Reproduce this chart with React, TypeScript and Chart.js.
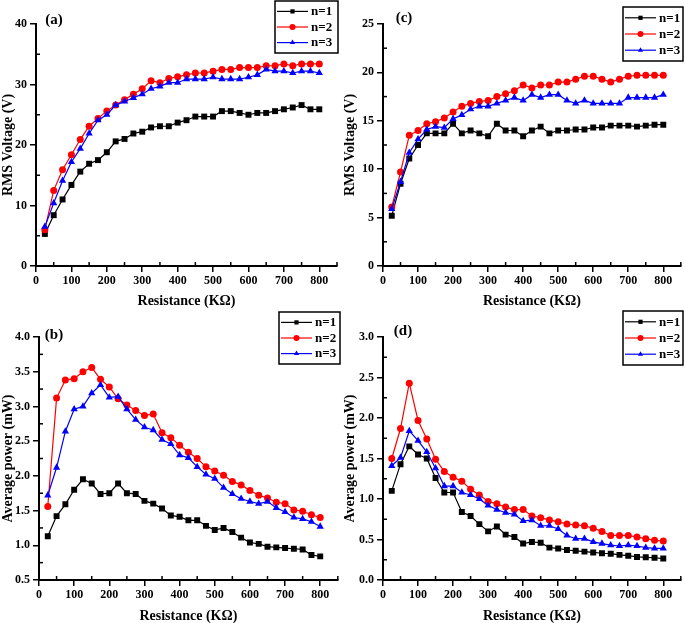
import React, { useEffect, useRef } from 'react';
import { Chart, registerables } from 'chart.js';

Chart.register(...registerables);

// ---------- data ----------
const resistance = [25, 50, 75, 100, 125, 150, 175, 200, 225, 250, 275, 300, 325, 350, 375, 400,
  425, 450, 475, 500, 525, 550, 575, 600, 625, 650, 675, 700, 725, 750, 775, 800];

const seriesNames = ['n=1', 'n=2', 'n=3'];

// (a) RMS voltage
const aN1 = [5.3, 8.4, 11.0, 13.4, 15.6, 16.9, 17.5, 18.8, 20.6, 21.0, 21.9, 22.2, 22.9, 23.1, 23.1, 23.7,
  24.1, 24.7, 24.7, 24.7, 25.6, 25.6, 25.3, 25.0, 25.3, 25.3, 25.6, 25.9, 26.2, 26.6, 25.9, 25.9];
const aN2 = [6.0, 12.5, 15.9, 18.4, 20.9, 23.1, 24.4, 25.6, 26.6, 27.5, 28.4, 29.3, 30.6, 30.3, 31.0, 31.3,
  31.6, 31.9, 31.9, 32.2, 32.5, 32.5, 32.8, 32.8, 32.8, 33.1, 33.1, 33.4, 33.1, 33.4, 33.4, 33.4];
const aN3 = [6.5, 10.4, 14.1, 17.2, 19.4, 21.9, 24.1, 25.0, 26.6, 27.2, 27.8, 28.4, 29.3, 29.7, 30.3, 30.3,
  30.9, 30.9, 30.9, 31.2, 30.9, 30.9, 30.9, 31.2, 31.6, 32.5, 32.2, 32.2, 31.9, 32.2, 32.2, 31.9];

// (b) Average power
const bN1 = [1.13, 1.42, 1.59, 1.80, 1.95, 1.89, 1.74, 1.75, 1.89, 1.75, 1.74, 1.64, 1.60, 1.53, 1.43, 1.41,
  1.36, 1.36, 1.28, 1.22, 1.25, 1.19, 1.11, 1.04, 1.02, 0.98, 0.97, 0.96, 0.95, 0.94, 0.86, 0.84];
const bN2 = [1.56, 3.12, 3.38, 3.40, 3.50, 3.56, 3.39, 3.28, 3.11, 3.02, 2.94, 2.87, 2.89, 2.62, 2.55, 2.44,
  2.34, 2.25, 2.13, 2.07, 2.01, 1.92, 1.87, 1.79, 1.72, 1.68, 1.62, 1.60, 1.51, 1.49, 1.44, 1.40];
const bN3 = [1.72, 2.12, 2.64, 2.96, 3.00, 3.19, 3.31, 3.13, 3.14, 2.96, 2.81, 2.70, 2.66, 2.52, 2.46, 2.30,
  2.26, 2.13, 2.02, 1.96, 1.83, 1.74, 1.67, 1.63, 1.60, 1.63, 1.54, 1.48, 1.40, 1.38, 1.34, 1.27];

// (c) RMS voltage
const cN1 = [5.2, 8.5, 11.1, 12.5, 13.7, 13.7, 13.7, 14.7, 13.7, 14.0, 13.7, 13.4, 14.7, 14.0, 14.0, 13.4,
  14.0, 14.4, 13.7, 14.0, 14.0, 14.1, 14.1, 14.3, 14.3, 14.5, 14.5, 14.5, 14.4, 14.5, 14.6, 14.6];
const cN2 = [6.1, 9.7, 13.5, 14.0, 14.7, 14.9, 15.3, 15.9, 16.5, 16.8, 17.0, 17.1, 17.5, 17.8, 18.1, 18.7,
  18.4, 18.7, 18.7, 19.0, 19.0, 19.3, 19.6, 19.6, 19.3, 19.0, 19.3, 19.6, 19.7, 19.7, 19.7, 19.7];
const cN3 = [5.9, 8.7, 11.7, 13.1, 14.1, 14.4, 14.3, 15.2, 15.6, 16.2, 16.5, 16.5, 16.8, 17.1, 17.4, 17.1,
  17.7, 17.4, 17.7, 17.7, 17.1, 16.8, 17.1, 16.8, 16.8, 16.8, 16.8, 17.4, 17.4, 17.4, 17.4, 17.7];

// (d) Average power
const dN1 = [1.10, 1.43, 1.65, 1.55, 1.50, 1.26, 1.08, 1.08, 0.84, 0.79, 0.69, 0.60, 0.66, 0.56, 0.53, 0.45,
  0.47, 0.46, 0.40, 0.39, 0.37, 0.36, 0.35, 0.34, 0.33, 0.325, 0.31, 0.30, 0.285, 0.28, 0.275, 0.265];
const dN2 = [1.50, 1.87, 2.43, 1.97, 1.74, 1.49, 1.34, 1.27, 1.22, 1.12, 1.05, 0.97, 0.94, 0.90, 0.87, 0.87,
  0.79, 0.77, 0.74, 0.72, 0.69, 0.68, 0.67, 0.64, 0.60, 0.55, 0.55, 0.55, 0.53, 0.51, 0.49, 0.48];
const dN3 = [1.41, 1.51, 1.84, 1.72, 1.58, 1.38, 1.16, 1.16, 1.08, 1.05, 1.00, 0.92, 0.87, 0.83, 0.81, 0.73,
  0.74, 0.67, 0.67, 0.63, 0.55, 0.51, 0.51, 0.47, 0.45, 0.43, 0.42, 0.43, 0.42, 0.40, 0.39, 0.39];

const xTitle = 'Resistance (KΩ)';
const voltageTitle = 'RMS Voltage (V)';
const powerTitle = 'Average power (mW)';

// ---------- styling ----------
const FONT = '"Liberation Serif", "Times New Roman", serif';
const colors = ['#000000', '#ff0000', '#0000ff'];
const pointStyles = ['rect', 'circle', 'triangle'];
const pointRadii = [4.2, 3.5, 4.2];

type Panel = {
  key: string;
  label: string;
  yTitle: string;
  yMin: number;
  yMax: number;
  yStep: number;
  decimals: number;
  values: number[][];
  left: number; top: number; width: number; height: number;
  yAxisW: number; xAxisH: number; padTop: number; padRight: number; xTitlePad: number;
  legend: { x: number; y: number; w: number; h: number };
  labelPos: { x: number; y: number };
};

const panels: Panel[] = [
  {
    key: 'a', label: '(a)', yTitle: voltageTitle, yMin: 0, yMax: 40, yStep: 10, decimals: 0,
    values: [aN1, aN2, aN3],
    left: 0, top: 0, width: 342, height: 310,
    yAxisW: 36, xAxisH: 44, padTop: 24, padRight: 5, xTitlePad: 0,
    legend: { x: 275, y: 1, w: 63, h: 52 }, labelPos: { x: 54, y: 20 },
  },
  {
    key: 'c', label: '(c)', yTitle: voltageTitle, yMin: 0, yMax: 25, yStep: 5, decimals: 0,
    values: [cN1, cN2, cN3],
    left: 342, top: 0, width: 343, height: 310,
    yAxisW: 41, xAxisH: 44, padTop: 24, padRight: 1, xTitlePad: 0,
    legend: { x: 281, y: 7, w: 60, h: 54 }, labelPos: { x: 62, y: 18 },
  },
  {
    key: 'b', label: '(b)', yTitle: powerTitle, yMin: 0.5, yMax: 4.0, yStep: 0.5, decimals: 1,
    values: [bN1, bN2, bN3],
    left: 0, top: 310, width: 342, height: 313,
    yAxisW: 39, xAxisH: 43, padTop: 27, padRight: 2, xTitlePad: -2,
    legend: { x: 279, y: 2, w: 61, h: 52 }, labelPos: { x: 54, y: 25 },
  },
  {
    key: 'd', label: '(d)', yTitle: powerTitle, yMin: 0, yMax: 3.0, yStep: 0.5, decimals: 1,
    values: [dN1, dN2, dN3],
    left: 342, top: 310, width: 343, height: 313,
    yAxisW: 41, xAxisH: 43, padTop: 27, padRight: 1, xTitlePad: -2,
    legend: { x: 281, y: 1, w: 60, h: 54 }, labelPos: { x: 61, y: 21 },
  },
];

function drawMarker(ctx: CanvasRenderingContext2D, style: string, x: number, y: number, r: number) {
  ctx.beginPath();
  if (style === 'rect') {
    const s = r * Math.SQRT1_2;
    ctx.rect(x - s, y - s, 2 * s, 2 * s);
  } else if (style === 'circle') {
    ctx.arc(x, y, r, 0, Math.PI * 2);
  } else {
    const h = r * 1.5;
    ctx.moveTo(x, y - r);
    ctx.lineTo(x + r * 0.866, y + r * 0.5);
    ctx.lineTo(x - r * 0.866, y + r * 0.5);
    ctx.closePath();
    void h;
  }
  ctx.fill();
}

const decorPlugin = {
  id: 'decor',
  afterDraw(chart: any, _args: any, opts: any) {
    const ctx: CanvasRenderingContext2D = chart.ctx;
    const xs = chart.scales.x;
    const ys = chart.scales.y;
    const area = chart.chartArea;
    ctx.save();
    // minor ticks (inward)
    ctx.strokeStyle = '#000';
    ctx.lineWidth = 1.5;
    const xStep = 100;
    const nX = Math.round((xs.max - xs.min) / xStep) + 1;
    for (let i = 0; i < nX; i++) {
      const v = xs.min + xStep / 2 + i * xStep;
      if (v > xs.max + 1e-9) break;
      const px = xs.getPixelForValue(v);
      ctx.beginPath();
      ctx.moveTo(px, area.bottom);
      ctx.lineTo(px, area.bottom - 4);
      ctx.stroke();
    }
    const yStep = opts.yStep;
    const nY = Math.round((ys.max - ys.min) / yStep) + 1;
    for (let i = 0; i < nY; i++) {
      const v = ys.min + yStep / 2 + i * yStep;
      if (v > ys.max + 1e-9) break;
      const py = ys.getPixelForValue(v);
      ctx.beginPath();
      ctx.moveTo(area.left, py);
      ctx.lineTo(area.left + 4, py);
      ctx.stroke();
    }
    // panel label
    ctx.fillStyle = '#000';
    ctx.font = `bold 15px ${FONT}`;
    ctx.textAlign = 'center';
    ctx.textBaseline = 'middle';
    ctx.fillText(opts.label, opts.labelX, opts.labelY);
    // legend box
    const L = opts.legend;
    ctx.fillStyle = '#fff';
    ctx.fillRect(L.x, L.y, L.w, L.h);
    ctx.lineWidth = 1.5;
    ctx.strokeStyle = '#000';
    ctx.strokeRect(L.x, L.y, L.w, L.h);
    chart.data.datasets.forEach((ds: any, i: number) => {
      const ry = L.y + L.h * (0.2 + 0.3 * i);
      const x0 = L.x + 2;
      const x1 = L.x + 33;
      ctx.strokeStyle = ds.borderColor;
      ctx.lineWidth = 1.2;
      ctx.beginPath();
      ctx.moveTo(x0, ry);
      ctx.lineTo(x1, ry);
      ctx.stroke();
      ctx.fillStyle = ds.borderColor;
      drawMarker(ctx, ds.pointStyle, (x0 + x1) / 2, ry, 3);
      ctx.fillStyle = '#000';
      ctx.font = `bold 13px ${FONT}`;
      ctx.textAlign = 'left';
      ctx.textBaseline = 'middle';
      ctx.fillText(ds.label, L.x + 36, ry + 0.5);
    });
    ctx.restore();
  },
};

function PanelChart({ p }: { p: Panel }) {
  const ref = useRef<HTMLCanvasElement | null>(null);
  useEffect(() => {
    if (!ref.current) return;
    const tickFont = { family: FONT, size: 12, weight: 'bold' as const };
    const titleFont = { family: FONT, size: 14, weight: 'bold' as const };
    const chart = new Chart(ref.current, {
      type: 'line',
      data: {
        datasets: p.values.map((vals, i) => ({
          label: seriesNames[i],
          data: resistance.map((x, j) => ({ x, y: vals[j] })),
          borderColor: colors[i],
          backgroundColor: colors[i],
          pointBackgroundColor: colors[i],
          pointBorderColor: colors[i],
          pointStyle: pointStyles[i] as any,
          pointRadius: pointRadii[i],
          pointBorderWidth: 0,
          borderWidth: 1.2,
          tension: 0,
          order: 3 - i,
        })),
      },
      options: {
        responsive: false,
        animation: false,
        layout: { padding: { top: p.padTop, right: p.padRight, left: 0, bottom: 0 } },
        plugins: {
          legend: { display: false },
          tooltip: { enabled: false },
          title: { display: false },
          decor: {
            yStep: p.yStep,
            label: p.label,
            labelX: p.labelPos.x,
            labelY: p.labelPos.y,
            legend: p.legend,
          },
        } as any,
        scales: {
          x: {
            type: 'linear',
            min: 0,
            max: 850,
            afterFit: (s: any) => { s.height = p.xAxisH; },
            ticks: {
              stepSize: 100,
              includeBounds: false,
              font: tickFont,
              color: '#000',
              padding: 2,
              maxRotation: 0,
              autoSkip: false,
            },
            grid: { drawOnChartArea: false, drawTicks: true, tickLength: 6, color: '#000', lineWidth: 1.5 },
            border: { display: true, color: '#000', width: 2 },
            title: { display: true, text: xTitle, font: titleFont, color: '#000', padding: { top: 0, bottom: p.xTitlePad } },
          },
          y: {
            type: 'linear',
            min: p.yMin,
            max: p.yMax,
            afterFit: (s: any) => { s.width = p.yAxisW; },
            ticks: {
              stepSize: p.yStep,
              font: tickFont,
              color: '#000',
              padding: 3,
              autoSkip: false,
              callback: (v: any) => Number(v).toFixed(p.decimals),
            },
            grid: { drawOnChartArea: false, drawTicks: true, tickLength: 6, color: '#000', lineWidth: 1.5 },
            border: { display: true, color: '#000', width: 2 },
            title: { display: true, text: p.yTitle, font: titleFont, color: '#000', padding: 0 },
          },
        },
      } as any,
      plugins: [decorPlugin],
    });
    return () => chart.destroy();
  }, [p]);
  return (
    <div style={{ position: 'absolute', left: p.left, top: p.top, width: p.width, height: p.height }}>
      <canvas ref={ref} width={p.width} height={p.height} style={{ display: 'block' }} />
    </div>
  );
}

export default function App() {
  return (
    <div style={{ position: 'absolute', left: 0, top: 0, width: 685, height: 623, background: '#fff', overflow: 'hidden' }}>
      {panels.map((p) => (
        <PanelChart key={p.key} p={p} />
      ))}
    </div>
  );
}
